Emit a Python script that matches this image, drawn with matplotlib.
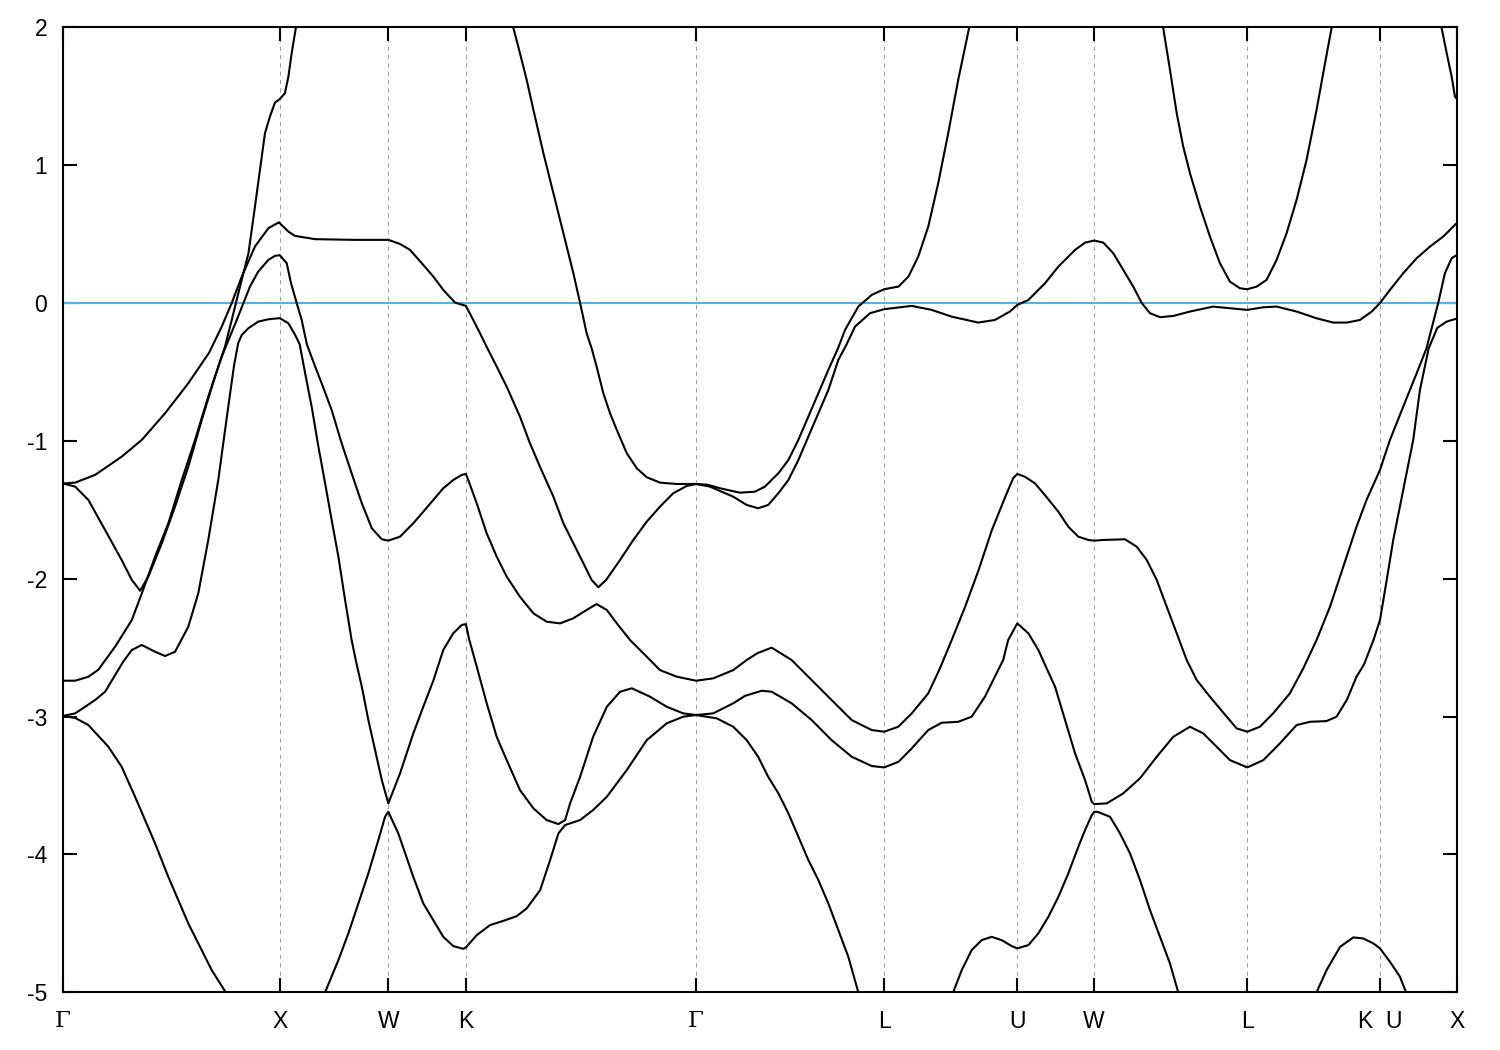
import numpy as np
import matplotlib.pyplot as plt

# high-symmetry points along the path (units of 2pi/a)
kpos = [0.0, 1.0, 1.5, 1.857, 2.917, 3.783, 4.396, 4.750, 5.455, 6.066, 6.419]
klabels = ['Γ', 'X', 'W', 'K', 'Γ', 'L', 'U', 'W', 'L', 'K  U', 'X']

# band a : Gamma(-1.31) -> X(0.58) -> W -> K -> ... -> X
a_k = [0, 0.058, 0.150, 0.272, 0.365, 0.472, 0.579, 0.675, 0.733, 0.779, 0.825, 0.886, 0.948, 0.997,
       1.0, 1.04, 1.07, 1.163, 1.347, 1.5, 1.554, 1.600, 1.661, 1.707, 1.753, 1.807, 1.857, 1.891, 1.922,
       1.956, 1.999, 2.045, 2.106, 2.152, 2.198, 2.260, 2.306, 2.352, 2.398, 2.436, 2.467, 2.503, 2.567,
       2.628, 2.690, 2.751, 2.812, 2.874, 2.917, 2.981, 3.088, 3.150, 3.203, 3.249, 3.296, 3.342, 3.388,
       3.434, 3.480, 3.526, 3.572, 3.61, 3.649, 3.718, 3.783, 3.910, 4.002, 4.094, 4.216, 4.293, 4.362,
       4.396, 4.447, 4.524, 4.585, 4.662, 4.708, 4.750, 4.792, 4.838, 4.884, 4.930, 4.969, 5.007, 5.053,
       5.114, 5.191, 5.298, 5.375, 5.455, 5.529, 5.590, 5.682, 5.774, 5.851, 5.913, 5.974, 6.028, 6.066,
       6.112, 6.173, 6.235, 6.296, 6.357, 6.388, 6.419]
a_e = [-1.31, -1.303, -1.247, -1.115, -0.993, -0.80, -0.582, -0.36, -0.171, 0.0, 0.19, 0.41, 0.543, 0.586,
       0.579, 0.518, 0.487, 0.463, 0.458, 0.458, 0.428, 0.385, 0.276, 0.192, 0.095, 0.003, -0.021, -0.123, -0.219,
       -0.328, -0.461, -0.607, -0.824, -1.017, -1.187, -1.405, -1.598, -1.743, -1.888, -2.009, -2.062, -2.009, -1.864,
       -1.719, -1.586, -1.477, -1.380, -1.327, -1.313, -1.332, -1.405, -1.465, -1.489, -1.465, -1.380, -1.284, -1.139,
       -0.969, -0.800, -0.631, -0.413, -0.30, -0.171, -0.074, -0.045, -0.021, -0.050, -0.099, -0.142, -0.123, -0.062,
       -0.014, 0.022, 0.144, 0.264, 0.385, 0.438, 0.453, 0.438, 0.361, 0.240, 0.119, 0.0, -0.074, -0.103,
       -0.094, -0.062, -0.026, -0.038, -0.050, -0.031, -0.026, -0.062, -0.111, -0.142, -0.142, -0.123, -0.062, 0.0,
       0.095, 0.216, 0.325, 0.409, 0.482, 0.530, 0.579]

# band b : Gamma(-2.74) -> X(0.35) -> W(-1.72) -> K(-1.24) -> ...
b_k = [0, 0.058, 0.119, 0.165, 0.242, 0.319, 0.365, 0.426, 0.487, 0.549, 0.610, 0.671, 0.733, 0.802,
       0.833, 0.863, 0.901, 0.948, 0.978, 1.0, 1.032, 1.052, 1.078, 1.101, 1.125, 1.163, 1.193, 1.239,
       1.285, 1.331, 1.378, 1.424, 1.470, 1.5, 1.554, 1.615, 1.661, 1.707, 1.753, 1.799, 1.838, 1.857,
       1.868, 1.907, 1.953, 1.999, 2.045, 2.106, 2.168, 2.229, 2.291, 2.352, 2.413, 2.459, 2.506, 2.552,
       2.613, 2.690, 2.751, 2.828, 2.917, 2.996, 3.088, 3.150, 3.20, 3.265, 3.357, 3.449, 3.541, 3.634,
       3.726, 3.783, 3.848, 3.910, 3.986, 4.040, 4.094, 4.156, 4.218, 4.279, 4.341, 4.377, 4.396, 4.431,
       4.477, 4.523, 4.585, 4.631, 4.677, 4.723, 4.750, 4.792, 4.892, 4.946, 4.992, 5.038, 5.084, 5.130,
       5.176, 5.222, 5.283, 5.360, 5.406, 5.455, 5.513, 5.574, 5.651, 5.713, 5.774, 5.836, 5.897, 5.958,
       6.004, 6.066, 6.112, 6.173, 6.235, 6.28, 6.334, 6.365, 6.396, 6.419]
b_e = [-2.74, -2.74, -2.711, -2.66, -2.493, -2.30, -2.106, -1.84, -1.598, -1.284, -0.993, -0.679, -0.389, -0.123,
       0.0, 0.119, 0.228, 0.313, 0.342, 0.347, 0.289, 0.144, 0.0, -0.123, -0.30, -0.461, -0.582, -0.776,
       -1.017, -1.235, -1.453, -1.634, -1.714, -1.724, -1.695, -1.598, -1.514, -1.429, -1.344, -1.284, -1.247, -1.240,
       -1.284, -1.453, -1.671, -1.840, -1.985, -2.131, -2.251, -2.312, -2.324, -2.287, -2.227, -2.184, -2.227, -2.324,
       -2.445, -2.566, -2.663, -2.711, -2.740, -2.723, -2.663, -2.590, -2.54, -2.50, -2.590, -2.735, -2.880, -3.026,
       -3.098, -3.110, -3.074, -2.977, -2.832, -2.65, -2.445, -2.203, -1.937, -1.647, -1.405, -1.271, -1.240, -1.260,
       -1.308, -1.393, -1.514, -1.623, -1.695, -1.719, -1.724, -1.719, -1.714, -1.768, -1.864, -2.009, -2.203, -2.396,
       -2.590, -2.735, -2.856, -3.001, -3.086, -3.110, -3.074, -2.977, -2.832, -2.650, -2.445, -2.203, -1.913, -1.623,
       -1.429, -1.211, -0.993, -0.752, -0.509, -0.33, 0.0, 0.216, 0.325, 0.347]

# band c : Gamma(-2.99, bump) -> X(-0.11) -> W(-3.63) -> K(-2.33) -> ...
c_k = [0, 0.058, 0.104, 0.150, 0.196, 0.242, 0.28, 0.319, 0.365, 0.426, 0.472, 0.518, 0.579, 0.625,
       0.671, 0.717, 0.763, 0.790, 0.809, 0.825, 0.856, 0.901, 0.948, 1.0, 1.040, 1.071, 1.092, 1.117,
       1.147, 1.178, 1.209, 1.239, 1.270, 1.301, 1.331, 1.354, 1.378, 1.408, 1.439, 1.470, 1.5, 1.554,
       1.615, 1.661, 1.707, 1.753, 1.799, 1.838, 1.857, 1.873, 1.904, 1.953, 1.999, 2.045, 2.106, 2.168,
       2.229, 2.283, 2.314, 2.337, 2.383, 2.443, 2.506, 2.567, 2.621, 2.705, 2.782, 2.858, 2.917, 2.996,
       3.088, 3.142, 3.219, 3.265, 3.357, 3.449, 3.541, 3.634, 3.726, 3.783, 3.849, 3.910, 3.986, 4.048,
       4.124, 4.186, 4.247, 4.293, 4.331, 4.354, 4.396, 4.447, 4.493, 4.531, 4.570, 4.616, 4.662, 4.708,
       4.739, 4.750, 4.808, 4.884, 4.961, 5.038, 5.114, 5.191, 5.252, 5.314, 5.375, 5.455, 5.529, 5.605,
       5.682, 5.744, 5.820, 5.866, 5.913, 5.958, 5.993, 6.036, 6.066, 6.097, 6.127, 6.173, 6.219, 6.250,
       6.29, 6.33, 6.373, 6.419]
c_e = [-2.996, -2.977, -2.929, -2.880, -2.820, -2.70, -2.60, -2.517, -2.481, -2.530, -2.561, -2.530, -2.348, -2.106,
       -1.719, -1.284, -0.752, -0.45, -0.29, -0.232, -0.183, -0.135, -0.118, -0.11, -0.147, -0.232, -0.30, -0.510,
       -0.752, -1.042, -1.308, -1.574, -1.840, -2.155, -2.445, -2.62, -2.784, -3.025, -3.243, -3.461, -3.630, -3.412,
       -3.122, -2.929, -2.74, -2.517, -2.396, -2.336, -2.329, -2.445, -2.62, -2.904, -3.147, -3.316, -3.533, -3.666,
       -3.751, -3.780, -3.751, -3.630, -3.437, -3.147, -2.929, -2.820, -2.795, -2.856, -2.929, -2.977, -2.989, -2.977,
       -2.904, -2.85, -2.813, -2.820, -2.904, -3.025, -3.171, -3.292, -3.359, -3.369, -3.328, -3.231, -3.098, -3.045,
       -3.038, -3.001, -2.856, -2.711, -2.590, -2.445, -2.324, -2.396, -2.517, -2.650, -2.784, -3.026, -3.267, -3.461,
       -3.618, -3.635, -3.630, -3.557, -3.448, -3.292, -3.147, -3.074, -3.122, -3.219, -3.316, -3.369, -3.316, -3.195,
       -3.062, -3.038, -3.033, -3.001, -2.880, -2.711, -2.62, -2.445, -2.300, -2.009, -1.719, -1.356, -0.993, -0.631,
       -0.33, -0.18, -0.135, -0.113]

# band d : upper band, leaves the window several times
d1_k = [0, 0.058, 0.119, 0.196, 0.272, 0.319, 0.357, 0.395, 0.457, 0.518, 0.579, 0.641, 0.702, 0.748,
        0.779, 0.817, 0.856, 0.886, 0.909, 0.932, 0.955, 0.978, 1.0, 1.024, 1.040, 1.055, 1.074]
d1_e = [-1.308, -1.332, -1.429, -1.647, -1.864, -2.009, -2.087, -1.985, -1.743, -1.477, -1.187, -0.848, -0.534, -0.316,
        -0.123, 0.119, 0.361, 0.700, 0.966, 1.232, 1.353, 1.454, 1.479, 1.522, 1.643, 1.813, 1.994]
d2_k = [2.076, 2.106, 2.137, 2.168, 2.214, 2.260, 2.306, 2.352, 2.383, 2.413, 2.436, 2.459, 2.490, 2.521,
        2.552, 2.598, 2.644, 2.690, 2.751, 2.828, 2.917, 2.97, 3.027, 3.119, 3.188, 3.234, 3.296, 3.342,
        3.388, 3.434, 3.480, 3.526, 3.57, 3.603, 3.664, 3.726, 3.783, 3.849, 3.895, 3.940, 3.986, 4.032,
        4.078, 4.124, 4.174]
d2_e = [1.994, 1.813, 1.619, 1.401, 1.087, 0.797, 0.507, 0.216, 0.0, -0.219, -0.328, -0.461, -0.655, -0.800,
        -0.921, -1.090, -1.199, -1.264, -1.303, -1.313, -1.313, -1.318, -1.344, -1.376, -1.369, -1.332, -1.235, -1.139,
        -0.993, -0.824, -0.655, -0.485, -0.33, -0.195, -0.026, 0.059, 0.100, 0.119, 0.192, 0.337, 0.554, 0.869,
        1.232, 1.619, 1.994]
d3_k = [5.068, 5.099, 5.130, 5.160, 5.191, 5.237, 5.283, 5.329, 5.375, 5.421, 5.455, 5.498, 5.544, 5.590,
        5.636, 5.682, 5.728, 5.774, 5.813, 5.843]
d3_e = [1.994, 1.692, 1.377, 1.135, 0.942, 0.700, 0.482, 0.289, 0.155, 0.107, 0.100, 0.119, 0.168, 0.313,
        0.506, 0.748, 1.038, 1.401, 1.740, 1.994]
d4_k = [6.350, 6.373, 6.396, 6.411, 6.419]
d4_e = [1.994, 1.813, 1.643, 1.498, 1.483]

# band e : lowest visible band, dips below the window
e1_k = [0, 0.058, 0.119, 0.211, 0.272, 0.334, 0.426, 0.487, 0.579, 0.687, 0.751]
e1_e = [-2.996, -3.01, -3.062, -3.219, -3.364, -3.582, -3.920, -4.163, -4.501, -4.840, -5.0]
e2_k = [1.209, 1.270, 1.316, 1.362, 1.408, 1.454, 1.485, 1.5, 1.546, 1.615, 1.661, 1.707, 1.753, 1.799,
        1.845, 1.857, 1.907, 1.968, 2.030, 2.091, 2.137, 2.199, 2.245, 2.283, 2.314, 2.383, 2.443, 2.506,
        2.598, 2.690, 2.782, 2.858, 2.917, 3.012, 3.088, 3.150, 3.203, 3.249, 3.296, 3.342, 3.388, 3.434,
        3.480, 3.526, 3.572, 3.618, 3.664]
e2_e = [-5.0, -4.767, -4.573, -4.356, -4.138, -3.896, -3.727, -3.691, -3.848, -4.163, -4.356, -4.477, -4.598, -4.665,
        -4.685, -4.675, -4.586, -4.513, -4.482, -4.448, -4.392, -4.259, -4.041, -3.848, -3.787, -3.751, -3.678, -3.582,
        -3.388, -3.171, -3.049, -3.001, -2.989, -3.013, -3.074, -3.171, -3.292, -3.437, -3.557, -3.702, -3.872, -4.041,
        -4.186, -4.356, -4.549, -4.743, -5.0]
e3_k = [4.101, 4.140, 4.186, 4.232, 4.278, 4.324, 4.370, 4.396, 4.447, 4.493, 4.539, 4.585, 4.631, 4.677,
        4.708, 4.739, 4.750, 4.765, 4.823, 4.869, 4.915, 4.961, 5.007, 5.053, 5.099, 5.137]
e3_e = [-5.0, -4.840, -4.694, -4.622, -4.598, -4.622, -4.665, -4.682, -4.658, -4.573, -4.453, -4.308, -4.138, -3.945,
        -3.824, -3.715, -3.691, -3.691, -3.727, -3.848, -3.993, -4.186, -4.404, -4.598, -4.791, -5.0]
e4_k = [5.774, 5.820, 5.882, 5.943, 5.989, 6.036, 6.066, 6.112, 6.158, 6.186]
e4_e = [-5.0, -4.840, -4.671, -4.602, -4.610, -4.646, -4.682, -4.779, -4.888, -5.0]

curves = [(a_k, a_e), (b_k, b_e), (c_k, c_e),
          (d1_k, d1_e), (d2_k, d2_e), (d3_k, d3_e), (d4_k, d4_e),
          (e1_k, e1_e), (e2_k, e2_e), (e3_k, e3_e), (e4_k, e4_e)]

fig = plt.figure(figsize=(15, 10.5), dpi=100)
ax = fig.add_axes([0.0417, 0.055, 0.9294, 0.919])

for kk in kpos[1:-1]:
    ax.axvline(kk, color='#a0a0a0', lw=0.75, ls=(0, (4, 4)), zorder=1)

ax.axhline(0, color='#56b0e0', lw=1.5, zorder=2)

for k, e in curves:
    ax.plot(k, e, color='black', lw=1.5, zorder=3)

ax.set_xlim(kpos[0], kpos[-1])
ax.set_ylim(-5, 2)
ax.set_yticks(range(-5, 3))
ax.set_yticklabels([str(v) for v in range(-5, 3)])
ax.set_xticks(kpos)
ax.set_xticklabels(klabels)

ax.tick_params(direction='in', length=10, width=1.5, top=True, right=True, labelsize=16.5)
ax.tick_params(axis='x', pad=13)
ax.tick_params(axis='y', pad=11)
for lab in ax.get_xticklabels() + ax.get_yticklabels():
    if lab.get_text() == 'Γ':
        lab.set_fontfamily('DejaVu Serif')
    else:
        lab.set_fontfamily('Liberation Sans')
for sp in ax.spines.values():
    sp.set_linewidth(1.5)

fig.savefig('out.png', dpi=100)
